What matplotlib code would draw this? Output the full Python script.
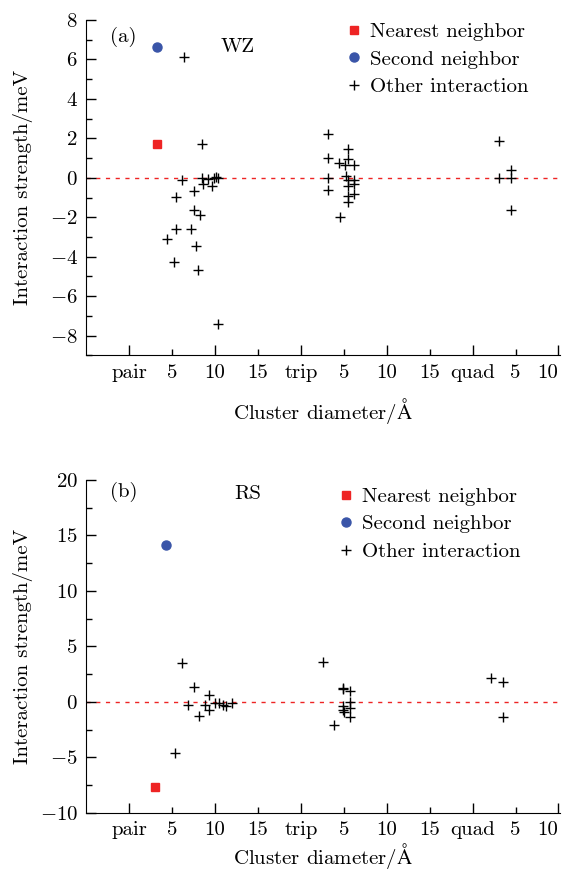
import numpy as np
import matplotlib
matplotlib.use('Agg')
from matplotlib import pyplot as plt
from matplotlib.ticker import MultipleLocator

plt.rcParams['font.family'] = 'serif'
plt.rcParams['font.serif'] = ['cmr10', 'DejaVu Serif']
plt.rcParams['mathtext.fontset'] = 'cm'
plt.rcParams['axes.formatter.use_mathtext'] = True
plt.rcParams['axes.unicode_minus'] = True

# x axis: pair section 0-20, trip 20-40, quad 40-50 (diameter in Angstrom)
tick_pos = [0, 5, 10, 15, 20, 25, 30, 35, 40, 45, 50]
tick_labels = ['pair', '5', '10', '15', 'trip', '5', '10', '15', 'quad', '5', '10']

# panel (a) WZ
wz_nn = (3.2, 1.7)
wz_2nd = (3.2, 6.65)
wz_x = [6.4, 8.5, 6.1, 5.5, 7.6, 7.55, 8.2, 5.5, 7.15, 4.45, 7.8, 5.2, 8.0, 10.4,
        8.5, 8.6, 9.2, 9.6, 9.9, 10.1, 10.3,
        23.2, 23.15, 23.15, 23.15, 24.4, 25.1, 25.5, 25.5, 26.15, 25.3, 25.5, 26.15,
        25.5, 26.15, 25.5, 26.15, 25.5, 24.5,
        43.1, 43.1, 44.5, 44.5, 44.5]
wz_y = [6.13, 1.73, -0.1, -0.95, -0.66, -1.63, -1.88, -2.61, -2.6, -3.09, -3.46, -4.27, -4.68, -7.39,
        0.0, -0.32, -0.08, -0.42, 0.0, 0.05, 0.0,
        2.24, 1.02, 0.0, -0.62, 0.74, 0.66, 1.47, 0.97, 0.63, 0.1, -0.1, -0.1,
        -0.42, -0.8, -0.9, -0.3, -1.2, -1.97,
        1.86, 0.0, 0.41, 0.0, -1.61]

# panel (b) RS
rs_nn = (3.0, -7.7)
rs_2nd = (4.3, 14.1)
rs_x = [6.15, 7.5, 5.3, 6.85, 8.15, 9.27, 8.8, 9.27, 9.97, 10.47, 10.93, 11.24, 12.0,
        22.55, 24.85, 24.95, 25.75, 25.75, 24.85, 24.85, 25.0, 25.75, 25.75, 23.9,
        42.2, 43.5, 43.5]
rs_y = [3.48, 1.33, -4.56, -0.26, -1.22, 0.6, -0.26, -0.7, -0.05, -0.08, -0.26, -0.4, -0.1,
        3.6, 1.26, 1.15, 0.98, 0.0, -0.4, -0.7, -0.88, -0.55, -1.32, -2.1,
        2.2, 1.8, -1.38]

RED = '#ee2424'
BLUE = '#3a55a8'
FS = 15


def draw_panel(ax, nn, second, xs, ys, ylim, ymajor, yminor, tag, phase,
               tag_y, phase_xy, leg_xy, xlabelpad):
    ax.axhline(0, color=RED, linestyle=(0, (3, 4)), linewidth=1.0, zorder=1)
    ax.plot([nn[0]], [nn[1]], 's', color=RED, markersize=6, label='Nearest neighbor', zorder=3)
    ax.plot([second[0]], [second[1]], 'o', color=BLUE, markersize=6.5, label='Second neighbor', zorder=3)
    ax.plot(xs, ys, '+', color='black', markersize=7, markeredgewidth=1.0,
            label='Other interaction', zorder=3)
    ax.set_xlim(-5, 50.2)
    ax.set_ylim(*ylim)
    ax.set_xticks(tick_pos)
    labels = ax.set_xticklabels(tick_labels)
    labels[-1].set_horizontalalignment('right')
    ax.yaxis.set_major_locator(MultipleLocator(ymajor))
    ax.yaxis.set_minor_locator(MultipleLocator(yminor))
    for s in ['top', 'right']:
        ax.spines[s].set_visible(False)
    ax.tick_params(direction='in', labelsize=FS, length=7, width=1, pad=6)
    ax.tick_params(which='minor', direction='in', length=4, width=1)
    # alternate long/short ticks on x axis
    for i, t in enumerate(ax.xaxis.get_major_ticks()):
        if i % 2 == 1:
            t.tick1line.set_markersize(4)
    ax.set_xlabel(r'Cluster diameter/$\mathrm{\AA}$', fontsize=FS, labelpad=xlabelpad)
    ax.set_ylabel('Interaction strength/meV', fontsize=FS)
    ax.yaxis.set_label_coords(-0.113, 0.5)
    ax.text(0.05, tag_y, tag, transform=ax.transAxes, fontsize=FS, va='top', ha='left')
    ax.text(phase_xy[0], phase_xy[1], phase, transform=ax.transAxes, fontsize=FS,
            va='top', ha='left')
    ax.legend(loc='upper left', bbox_to_anchor=leg_xy, frameon=False, fontsize=FS,
              handlelength=0.6, handletextpad=0.5, labelspacing=0.42,
              borderpad=0, borderaxespad=0)


fig = plt.figure(figsize=(5.67, 8.71), dpi=100)
ax1 = fig.add_axes([0.152, 0.592, 0.836, 0.385])
ax2 = fig.add_axes([0.152, 0.0666, 0.836, 0.3824])

draw_panel(ax1, wz_nn, wz_2nd, wz_x, wz_y, (-9, 8), 2, 1, '(a)', 'WZ',
           0.98, (0.283, 0.945), (0.551, 0.992), 10)
draw_panel(ax2, rs_nn, rs_2nd, rs_x, rs_y, (-10, 20), 5, 2.5, '(b)', 'RS',
           0.995, (0.312, 0.986), (0.534, 0.977), 1)

fig.savefig('out.png', dpi=100)
